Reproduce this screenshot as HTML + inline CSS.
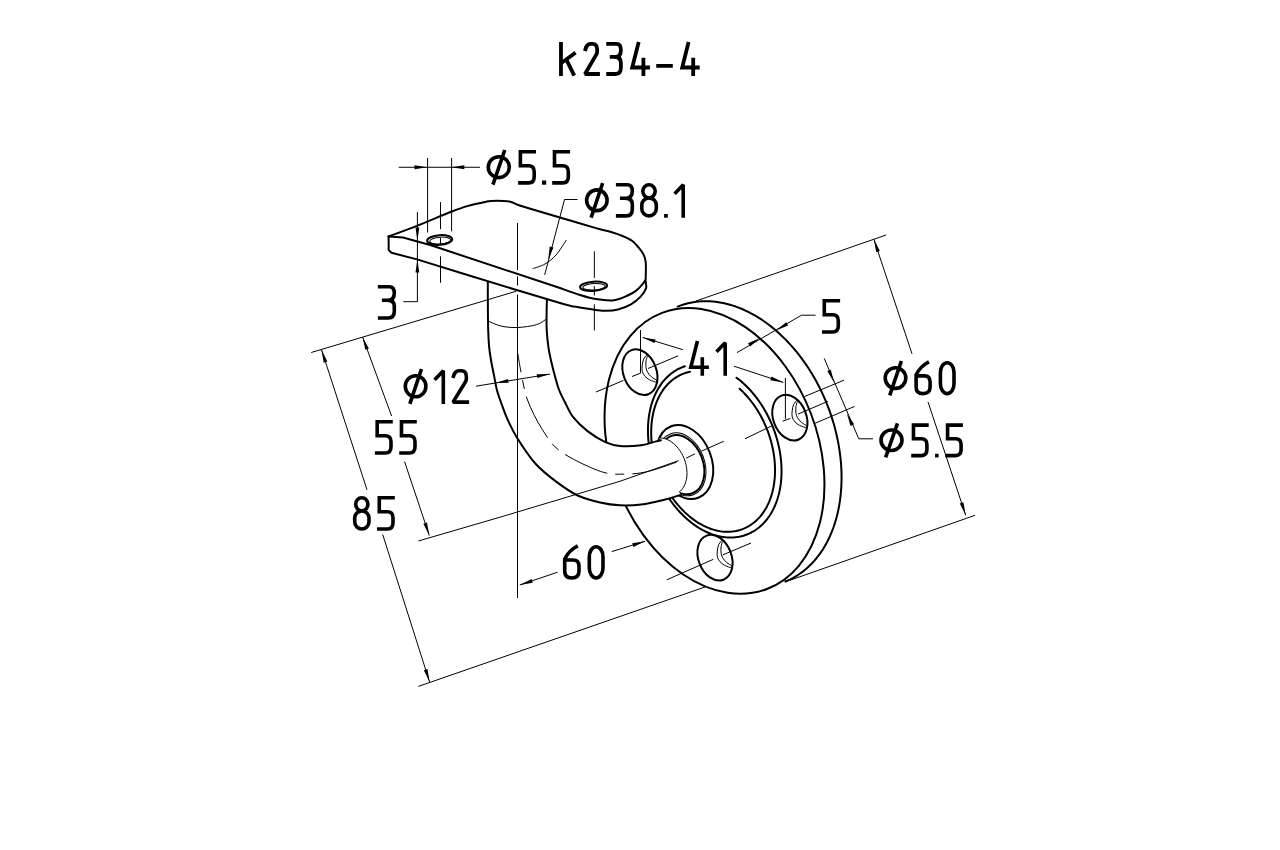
<!DOCTYPE html>
<html><head><meta charset="utf-8"><title>k234-4</title>
<style>html,body{margin:0;padding:0;background:#fff;}svg{display:block;}</style></head>
<body><svg width="1280" height="850" viewBox="0 0 1280 850">
<rect width="1280" height="850" fill="#fff"/>
<g fill="none" stroke="#000" stroke-width="2.0" stroke-linecap="round" stroke-linejoin="round">
<path d="M677.7,306.58 L680.23,305.61 L682.79,304.74 L685.39,303.96 L688.02,303.28 L690.68,302.69 L693.36,302.21 L696.07,301.81 L698.81,301.52 L701.57,301.32 L704.35,301.23 L707.15,301.23 L709.96,301.32 L712.79,301.52 L715.63,301.81 L718.49,302.2 L721.35,302.69 L724.22,303.27 L727.1,303.96 L729.97,304.73 L732.85,305.61 L735.73,306.57 L738.61,307.63 L741.48,308.79 L744.34,310.04 L747.19,311.38 L750.04,312.81 L752.87,314.33 L755.69,315.94 L758.49,317.64 L761.27,319.42 L764.03,321.29 L766.77,323.24 L769.48,325.28 L772.17,327.4 L774.83,329.59 L777.47,331.87 L780.07,334.22 L782.63,336.65 L785.17,339.15 L787.66,341.73 L790.12,344.37 L792.54,347.08 L794.91,349.86 L797.24,352.71 L799.53,355.61 L801.77,358.58 L803.96,361.6 L806.1,364.68 L808.19,367.82 L810.23,371.01 L812.22,374.25 L814.15,377.53 L816.02,380.86 L817.84,384.24 L819.59,387.65 L821.29,391.11 L822.92,394.6 L824.49,398.13 L826,401.68 L827.44,405.27 L828.82,408.88 L830.13,412.51 L831.38,416.17 L832.55,419.85 L833.66,423.54 L834.69,427.25 L835.66,430.97 L836.55,434.7 L837.37,438.43 L838.12,442.17 L838.8,445.91 L839.4,449.65 L839.93,453.38 L840.39,457.11 L840.77,460.83 L841.07,464.53 L841.3,468.23 L841.46,471.9 L841.54,475.56 L841.54,479.2 L841.47,482.81 L841.32,486.4 L841.1,489.95 L840.8,493.48 L840.43,496.97 L839.99,500.42 L839.47,503.84 L838.87,507.21 L838.2,510.55 L837.46,513.83 L836.65,517.07 L835.76,520.26 L834.81,523.4 L833.78,526.48 L832.68,529.5 L831.52,532.47 L830.28,535.38 L828.98,538.22 L827.61,541 L826.17,543.71 L824.67,546.36 L823.11,548.93 L821.48,551.43 L819.79,553.86 L818.04,556.21 L816.23,558.49 L814.37,560.69 L812.44,562.81 L810.47,564.84 L808.43,566.8 L806.35,568.67 L804.21,570.45 L802.03,572.15 L799.79,573.76 L797.51,575.28 L795.18,576.71 L792.81,578.05 L790.4,579.3 L787.95,580.46 L785.46,581.52"/>
<ellipse cx="714.5" cy="450.96" rx="147.66" ry="103.4" transform="rotate(69.2 714.5 450.96)"/>
<path d="M736.49,377.69 L738.64,379.34 L740.77,381.07 L742.86,382.88 L744.92,384.77 L746.95,386.74 L748.94,388.78 L750.88,390.9 L752.79,393.08 L754.65,395.34 L756.46,397.66 L758.23,400.04 L759.94,402.48 L761.6,404.98 L763.21,407.54 L764.75,410.14 L766.24,412.79 L767.67,415.49 L769.04,418.23 L770.34,421 L771.58,423.81 L772.75,426.66 L773.85,429.53 L774.88,432.43 L775.84,435.34 L776.73,438.28 L777.55,441.23 L778.29,444.19 L778.96,447.16 L779.55,450.14 L780.07,453.11 L780.51,456.09 L780.87,459.05 L781.16,462.01 L781.37,464.95 L781.49,467.88 L781.54,470.79 L781.51,473.67 L781.41,476.53 L781.22,479.35 L780.96,482.14 L780.62,484.9 L780.2,487.61 L779.7,490.29 L779.13,492.91 L778.48,495.49 L777.76,498.01 L776.96,500.48 L776.09,502.89 L775.15,505.24 L774.13,507.52 L773.05,509.74 L771.9,511.89 L770.68,513.96 L769.39,515.97 L768.04,517.89 L766.63,519.74 L765.16,521.5 L763.63,523.19 L762.04,524.78 L760.39,526.29 L758.69,527.72 L756.94,529.05 L755.14,530.29 L753.29,531.43 L751.4,532.48 L749.46,533.44 L747.49,534.29 L745.47,535.05 L743.42,535.71 L741.34,536.27 L739.22,536.73 L737.07,537.09 L734.9,537.35 L732.71,537.51 L730.49,537.56 L728.25,537.51 L726,537.36 L723.74,537.11 L721.46,536.75 L719.18,536.3 L716.89,535.74 L714.6,535.09 L712.31,534.33 L710.03,533.48 L707.74,532.53 L705.47,531.48 L703.21,530.34 L700.96,529.11 L698.73,527.78 L696.51,526.36 L694.32,524.86 L692.15,523.27 L690.01,521.59 L687.9,519.83 L685.81,517.98 L683.77,516.06 L681.76,514.06 L679.78,511.99 L677.85,509.84 L675.97,507.63 L674.12,505.35 L672.33,503 L670.59,500.6 L668.89,498.13 L667.26,495.61 L665.67,493.04 L664.15,490.41 L662.68,487.74 L661.28,485.03 L659.94,482.28 L658.66,479.48 L657.45,476.66 L656.31,473.81 L655.23,470.92 L654.23,468.02 L653.3,465.09 L652.43,462.15 L651.65,459.19 L650.93,456.23 L650.29,453.26 L649.73,450.28 L649.24,447.31 L648.84,444.34 L648.5,441.37 L648.25,438.42 L648.07,435.48 L647.98,432.56 L647.96,429.67 L648.02,426.79 L648.16,423.95 L648.37,421.14 L648.67,418.36 L649.04,415.62 L649.49,412.92 L650.02,410.27 L650.62,407.66 L651.3,405.1 L652.05,402.6 L652.88,400.16 L653.78,397.77 L654.75,395.45 L655.79,393.19 L656.9,391 L658.08,388.88 L659.32,386.83 L660.63,384.86 L662.01,382.96 L663.44,381.15 L664.94,379.42 L666.5,377.77 L668.11,376.21 L669.78,374.73 L671.5,373.34 L673.27,372.05 L675.09,370.85 L676.95,369.74 L678.86,368.73 L680.82,367.81 L682.81,366.99 L684.84,366.27"/>
<path d="M739.61,388.77 L741.51,390.53 L743.37,392.36 L745.19,394.26 L746.98,396.23 L748.73,398.26 L750.43,400.35 L752.1,402.5 L753.72,404.71 L755.29,406.97 L756.81,409.28 L758.28,411.64 L759.7,414.05 L761.06,416.51 L762.37,419 L763.62,421.53 L764.81,424.09 L765.94,426.69 L767.02,429.32 L768.02,431.97 L768.97,434.64 L769.85,437.33 L770.66,440.04 L771.41,442.77 L772.08,445.5 L772.69,448.24 L773.23,450.98 L773.7,453.72 L774.1,456.46 L774.43,459.2 L774.69,461.92 L774.88,464.64 L774.99,467.33 L775.03,470.01 L775,472.67 L774.9,475.3 L774.73,477.91 L774.48,480.48 L774.17,483.02 L773.78,485.53 L773.32,487.99 L772.79,490.41 L772.19,492.79 L771.53,495.11 L770.79,497.39 L769.99,499.61 L769.12,501.78 L768.19,503.89 L767.19,505.93 L766.13,507.92 L765.01,509.83 L763.83,511.68 L762.59,513.46 L761.29,515.17 L759.93,516.8 L758.52,518.36 L757.06,519.84 L755.55,521.24 L753.99,522.56 L752.38,523.79 L750.72,524.94 L749.02,526.01 L747.28,526.98 L745.5,527.88 L743.68,528.68 L741.83,529.39 L739.94,530.01 L738.02,530.54 L736.07,530.98 L734.1,531.32 L732.1,531.57 L730.08,531.73 L728.04,531.79 L725.98,531.76 L723.91,531.64 L721.82,531.43 L719.72,531.12 L717.62,530.72 L715.51,530.22 L713.4,529.64 L711.29,528.96 L709.18,528.19 L707.07,527.34 L704.97,526.39 L702.88,525.36 L700.81,524.24 L698.74,523.04 L696.7,521.75 L694.67,520.38 L692.67,518.93 L690.68,517.41 L688.73,515.8 L686.8,514.12 L684.9,512.37 L683.04,510.55 L681.21,508.66 L679.42,506.7 L677.67,504.68 L675.96,502.59 L674.29,500.45 L672.66,498.24 L671.09,495.99 L669.56,493.68 L668.08,491.32 L666.66,488.92 L665.29,486.47 L663.97,483.98 L662.72,481.46 L661.52,478.9 L660.38,476.3 L659.3,473.68 L658.29,471.03 L657.34,468.36 L656.45,465.67 L655.63,462.96 L654.87,460.24 L654.19,457.51 L653.57,454.77 L653.02,452.03 L652.54,449.28 L652.14,446.54 L651.8,443.81 L651.53,441.08 L651.34,438.37 L651.22,435.67 L651.17,432.99 L651.19,430.33 L651.28,427.69 L651.45,425.08 L651.69,422.5 L652,419.96 L652.38,417.45 L652.83,414.99 L653.35,412.56 L653.94,410.18 L654.6,407.85 L655.32,405.56 L656.12,403.34 L656.98,401.16 L657.9,399.05 L658.89,396.99 L659.95,395 L661.06,393.08 L662.24,391.22 L663.47,389.43 L664.76,387.72 L666.11,386.08 L667.51,384.51 L668.97,383.02 L670.48,381.62 L672.03,380.29 L673.64,379.04 L675.29,377.88 L676.99,376.81 L678.72,375.82 L680.5,374.92 L682.31,374.11 L684.16,373.39 L686.05,372.76 L687.96,372.22 L689.91,371.77"/>
<ellipse cx="639.9" cy="372.15" rx="23.63" ry="16.54" transform="rotate(69.2 639.9 372.15)"/>
<path stroke-width="1" d="M646.9,354.9 C646.35,355.6 644.38,357.3 643.6,359.1 C642.82,360.9 642.42,363.62 642.2,365.7 C641.98,367.78 641.83,369.83 642.3,371.6 C642.77,373.37 643.78,374.92 645,376.3 C646.22,377.68 647.63,378.87 649.6,379.9 C651.57,380.93 655.6,382.07 656.8,382.5"/>
<path stroke-width="1" d="M647.3,356.5 C647.08,357.27 646.22,359.23 646,361.1 C645.78,362.97 645.73,365.83 646,367.7 C646.27,369.57 646.68,370.77 647.6,372.3 C648.52,373.83 649.92,375.53 651.5,376.9 C653.08,378.27 656.17,379.9 657.1,380.5"/>
<ellipse cx="789.85" cy="417.65" rx="23.63" ry="16.54" transform="rotate(69.2 789.85 417.65)"/>
<path stroke-width="1" d="M796.85,400.4 C796.3,401.1 794.33,402.8 793.55,404.6 C792.77,406.4 792.37,409.12 792.15,411.2 C791.93,413.28 791.78,415.33 792.25,417.1 C792.72,418.87 793.73,420.42 794.95,421.8 C796.17,423.18 797.58,424.37 799.55,425.4 C801.52,426.43 805.55,427.57 806.75,428"/>
<path stroke-width="1" d="M797.25,402 C797.03,402.77 796.17,404.73 795.95,406.6 C795.73,408.47 795.68,411.33 795.95,413.2 C796.22,415.07 796.63,416.27 797.55,417.8 C798.47,419.33 799.87,421.03 801.45,422.4 C803.03,423.77 806.12,425.4 807.05,426"/>
<ellipse cx="715" cy="557.65" rx="23.63" ry="16.54" transform="rotate(69.2 715 557.65)"/>
<path stroke-width="1" d="M722,540.4 C721.45,541.1 719.48,542.8 718.7,544.6 C717.92,546.4 717.52,549.12 717.3,551.2 C717.08,553.28 716.93,555.33 717.4,557.1 C717.87,558.87 718.88,560.42 720.1,561.8 C721.32,563.18 722.73,564.37 724.7,565.4 C726.67,566.43 730.7,567.57 731.9,568"/>
<path stroke-width="1" d="M722.4,542 C722.18,542.77 721.32,544.73 721.1,546.6 C720.88,548.47 720.83,551.33 721.1,553.2 C721.37,555.07 721.78,556.27 722.7,557.8 C723.62,559.33 725.02,561.03 726.6,562.4 C728.18,563.77 731.27,565.4 732.2,566"/>
<g fill="#fff"><ellipse cx="684.75" cy="462" rx="38.24" ry="26.78" transform="rotate(69.2 684.75 462)"/></g>
<ellipse cx="681.65" cy="464.65" rx="30.57" ry="21.4" transform="rotate(69.2 681.65 464.65)"/>
<g stroke-width="1"><ellipse cx="681.8" cy="464.35" rx="32.49" ry="22.75" transform="rotate(69.2 681.8 464.35)"/></g>
<path fill="#fff" stroke="none" d="M487.8,280 C487.82,285 487.83,301.67 487.9,310 C487.97,318.33 487.98,323.72 488.2,330 C488.42,336.28 488.68,342.4 489.2,347.7 C489.72,353 490.48,357.1 491.3,361.8 C492.12,366.5 493.17,371.2 494.1,375.9 C495.03,380.6 495.72,385.48 496.9,390 C498.08,394.52 499.38,398 501.2,403 C503.02,408 505.08,414.08 507.8,420 C510.52,425.92 512.92,431.25 517.5,438.5 C522.08,445.75 528.8,456.27 535.3,463.5 C541.8,470.73 549.43,476.57 556.5,481.9 C563.57,487.23 570.45,492.07 577.7,495.5 C584.95,498.93 592.95,500.87 600,502.5 C607.05,504.13 613.13,504.97 620,505.3 C626.87,505.63 634.13,505.35 641.2,504.5 C648.27,503.65 655.77,501.82 662.4,500.2 C669.03,498.58 677.9,495.7 681,494.8 L679.37,491.91 L680.47,490.96 L681.5,489.9 L682.45,488.73 L683.32,487.45 L684.11,486.08 L684.81,484.62 L685.41,483.07 L685.92,481.45 L686.34,479.75 L686.65,478 L686.86,476.19 L686.98,474.33 L686.99,472.44 L686.89,470.53 L686.7,468.59 L686.4,466.64 L686.01,464.7 L685.52,462.76 L684.93,460.84 L684.25,458.94 L683.48,457.08 L682.62,455.27 L681.69,453.5 L680.67,451.8 L679.58,450.16 L678.43,448.6 L677.21,447.13 L675.94,445.74 L674.61,444.45 L673.24,443.27 L671.83,442.19 L670.39,441.22 L668.93,440.37 L667.44,439.65 L665.95,439.05 L664.45,438.57 L662.95,438.23 L661.46,438.01 L659.99,437.93 L658.54,437.99 L661,440.3 L655.3,441.6 L641.2,445.2 L620,445.9 L605.9,442.4 L587.5,431.1 L573.2,417.2 L564.7,401.7 L559.1,390 L554.9,375.9 L551.3,361.8 L548.5,347.7 L546.7,330 L546.6,315 L547,296 Z"/>
<path d="M487.8,280 C487.82,285 487.83,301.67 487.9,310 C487.97,318.33 487.98,323.72 488.2,330 C488.42,336.28 488.68,342.4 489.2,347.7 C489.72,353 490.48,357.1 491.3,361.8 C492.12,366.5 493.17,371.2 494.1,375.9 C495.03,380.6 495.72,385.48 496.9,390 C498.08,394.52 499.38,398 501.2,403 C503.02,408 505.08,414.08 507.8,420 C510.52,425.92 512.92,431.25 517.5,438.5 C522.08,445.75 528.8,456.27 535.3,463.5 C541.8,470.73 549.43,476.57 556.5,481.9 C563.57,487.23 570.45,492.07 577.7,495.5 C584.95,498.93 592.95,500.87 600,502.5 C607.05,504.13 613.13,504.97 620,505.3 C626.87,505.63 634.13,505.35 641.2,504.5 C648.27,503.65 655.77,501.82 662.4,500.2 C669.03,498.58 677.9,495.7 681,494.8"/>
<path d="M547,296 C546.93,299.17 546.65,309.33 546.6,315 C546.55,320.67 546.38,324.55 546.7,330 C547.02,335.45 547.73,342.4 548.5,347.7 C549.27,353 550.23,357.1 551.3,361.8 C552.37,366.5 553.6,371.2 554.9,375.9 C556.2,380.6 557.47,385.7 559.1,390 C560.73,394.3 562.35,397.17 564.7,401.7 C567.05,406.23 569.4,412.3 573.2,417.2 C577,422.1 582.05,426.9 587.5,431.1 C592.95,435.3 600.48,439.93 605.9,442.4 C611.32,444.87 614.12,445.43 620,445.9 C625.88,446.37 635.32,445.92 641.2,445.2 C647.08,444.48 652,442.42 655.3,441.6 C658.6,440.78 660.05,440.52 661,440.3"/>
<path stroke-width="1" d="M658.54,437.99 L659.99,437.93 L661.46,438.01 L662.95,438.23 L664.45,438.57 L665.95,439.05 L667.44,439.65 L668.93,440.37 L670.39,441.22 L671.83,442.19 L673.24,443.27 L674.61,444.45 L675.94,445.74 L677.21,447.13 L678.43,448.6 L679.58,450.16 L680.67,451.8 L681.69,453.5 L682.62,455.27 L683.48,457.08 L684.25,458.94 L684.93,460.84 L685.52,462.76 L686.01,464.7 L686.4,466.64 L686.7,468.59 L686.89,470.53 L686.99,472.44 L686.98,474.33 L686.86,476.19 L686.65,478 L686.34,479.75 L685.92,481.45 L685.41,483.07 L684.81,484.62 L684.11,486.08 L683.32,487.45 L682.45,488.73 L681.5,489.9 L680.47,490.96 L679.37,491.91"/>
<path stroke-width="1" d="M488.5,321.2 C490.62,322.02 496.38,325.05 501.2,326.1 C506.02,327.15 511.52,327.73 517.4,327.5 C523.28,327.27 531.67,326.12 536.5,324.7 C541.33,323.28 544.75,319.95 546.4,319"/>
<path fill="#fff" stroke="none" d="M388.5,236.5 C393.33,234.68 407.05,229.72 417.5,225.6 C427.95,221.48 442.77,215.08 451.2,211.8 C459.63,208.52 462.63,207.48 468.1,205.9 C473.57,204.32 480.18,203.13 484,202.3 C487.82,201.47 487.72,201.13 491,200.9 C494.28,200.67 500.37,200.72 503.7,200.9 C507.03,201.08 508.33,201.23 511,202 C513.67,202.77 515.92,204.22 519.7,205.5 C523.48,206.78 527.15,207.75 533.7,209.7 C540.25,211.65 548.62,214.13 559,217.2 C569.38,220.27 587.18,225.58 596,228.1 C604.82,230.62 607.48,230.98 611.9,232.3 C616.32,233.62 619.15,234.58 622.5,236 C625.85,237.42 629.37,238.93 632,240.8 C634.63,242.67 636.37,244.9 638.3,247.2 C640.23,249.5 642.37,252.13 643.6,254.6 C644.83,257.07 645.33,258.83 645.7,262 C646.07,265.17 645.82,270.27 645.8,273.6 C645.78,276.93 645.63,280.6 645.6,282 L645.6,282 C645.67,283.07 646.87,285.92 646,288.4 C645.13,290.88 642.92,294.25 640.4,296.9 C637.88,299.55 634.63,302.2 630.9,304.3 C627.17,306.4 622.15,308.42 618,309.5 C613.85,310.58 609.67,310.73 606,310.8 C602.33,310.87 601,310.57 596,309.9 C591,309.23 582,307.95 576,306.8 C570,305.65 577.67,308.17 560,303 C542.33,297.83 485,280.33 470,275.8 L417,259.4 L391.5,252.8 L388.7,250 Z"/>
<path d="M388.5,236.5 C393.33,234.68 407.05,229.72 417.5,225.6 C427.95,221.48 442.77,215.08 451.2,211.8 C459.63,208.52 462.63,207.48 468.1,205.9 C473.57,204.32 480.18,203.13 484,202.3 C487.82,201.47 487.72,201.13 491,200.9 C494.28,200.67 500.37,200.72 503.7,200.9 C507.03,201.08 508.33,201.23 511,202 C513.67,202.77 515.92,204.22 519.7,205.5 C523.48,206.78 527.15,207.75 533.7,209.7 C540.25,211.65 548.62,214.13 559,217.2 C569.38,220.27 587.18,225.58 596,228.1 C604.82,230.62 607.48,230.98 611.9,232.3 C616.32,233.62 619.15,234.58 622.5,236 C625.85,237.42 629.37,238.93 632,240.8 C634.63,242.67 636.37,244.9 638.3,247.2 C640.23,249.5 642.37,252.13 643.6,254.6 C644.83,257.07 645.33,258.83 645.7,262 C646.07,265.17 645.82,270.27 645.8,273.6 C645.78,276.93 645.63,280.6 645.6,282"/>
<path d="M645.6,282 C645.67,283.07 646.87,285.92 646,288.4 C645.13,290.88 642.92,294.25 640.4,296.9 C637.88,299.55 634.63,302.2 630.9,304.3 C627.17,306.4 622.15,308.42 618,309.5 C613.85,310.58 609.67,310.73 606,310.8 C602.33,310.87 601,310.57 596,309.9 C591,309.23 582,307.95 576,306.8 C570,305.65 577.67,308.17 560,303 C542.33,297.83 485,280.33 470,275.8 L417,259.4 L391.5,252.8 L388.7,250 L388.6,236.6"/>
<path d="M388.6,236.6 L403,237.5 L431,245.3 L560,288 L560,288 C563.33,289.17 574,293.15 580,295 C586,296.85 590.33,298.23 596,299.1 C601.67,299.97 608.72,300.8 614,300.2 C619.28,299.6 624,297.1 627.7,295.5 C631.4,293.9 633.72,292.48 636.2,290.6 C638.68,288.72 641.13,285.88 642.6,284.2 C644.07,282.52 644.6,281.12 645,280.5"/>
<ellipse cx="439.7" cy="240" rx="12.6" ry="4.8" transform="rotate(-4 439.7 240)"/>
<ellipse cx="440.2" cy="240.6" rx="10.5" ry="3.4" transform="rotate(-4 439.7 240)" stroke-width="1"/>
<ellipse cx="593.6" cy="286.3" rx="13.6" ry="4.6" transform="rotate(-4 593.6 286.3)"/>
<ellipse cx="594" cy="286.8" rx="11.2" ry="3.2" transform="rotate(-4 593.6 286.3)" stroke-width="1"/>
</g>
<g fill="none" stroke="#000" stroke-width="1.0" stroke-linecap="butt">
<path d="M517.5,222.9 L517.5,270"/>
<path d="M517.5,276.4 L517.5,285.5"/>
<path d="M517.5,294.5 L517.5,598"/>
<path d="M594.35,251.3 L594.35,277.9"/>
<path d="M594.35,286.1 L594.35,295.5"/>
<path d="M594.35,304.2 L594.35,330.4"/>
<path d="M440.5,202.1 L440.5,229.2"/>
<path d="M440.5,238 L440.5,244.7"/>
<path d="M440.5,256.3 L440.5,282.8"/>
<path d="M427.6,158 L427.6,232.5"/>
<path d="M451.6,158 L451.6,231.4"/>
<path d="M398.75,167.25 L480,167.25"/>
<path d="M417.4,212 L417.4,301.7 L403.3,301.7"/>
<path d="M577.5,199.5 L564.5,199.5 L544.7,274.8"/>
<path d="M311.2,352.5 L516,291.3"/>
<path d="M321.5,349.7 L367,489.8"/>
<path d="M382.7,534.5 L429.6,682"/>
<path d="M418.4,686.4 L705,587"/>
<path d="M362.6,337 L391.6,416"/>
<path d="M404.6,461.7 L429.3,535.5"/>
<path d="M418.4,541 L500,517.2 L620,481.25 L678.75,460.6"/>
<path d="M686.25,458.1 L695,453.75"/>
<path d="M701.25,451.25 L723.75,441.25"/>
<path d="M745,438.75 L772.7,425.4"/>
<path d="M782.6,421.2 L790.4,418.4"/>
<path d="M798,414.1 L827.8,401.4"/>
<path d="M804.5,396.5 L844,380.2"/>
<path d="M815,423.3 L854.6,406.4"/>
<path d="M596,392 L623.5,380.4"/>
<path d="M632,376.5 L640.5,373.2"/>
<path d="M648,368.5 L678.2,355.8"/>
<path d="M640.5,330 L640.5,373.2"/>
<path d="M785.4,378 L785.4,419"/>
<path d="M666.8,579.8 L713.4,559.3"/>
<path d="M722.6,555 L751,543"/>
<path d="M642.6,337.4 L682.9,349.7"/>
<path d="M734,366.2 L783.3,382.4"/>
<path d="M815.6,315.2 L801.5,315.2 L737,352.6"/>
<path d="M696,301 L886.1,235"/>
<path d="M873.9,239.3 L912,353.8"/>
<path d="M928,401.9 L965.7,515.3"/>
<path d="M789.8,580.3 L975,515.3"/>
<path d="M824.2,358.4 L858.8,438.8 L873,438.8"/>
<path d="M476,386.2 L549.9,374.1"/>
<path d="M519.8,585 L557.6,572.2"/>
<path d="M611.7,551.6 L645.2,541.3"/>
<path stroke-width="1" stroke-dasharray="46,8,9,8" stroke-dashoffset="27" d="M517.8,353.6 C518.33,356.67 519.38,364.27 521,372 C522.62,379.73 523.93,390.4 527.5,400 C531.07,409.6 536.87,421.02 542.4,429.6 C547.93,438.18 551.07,444.55 560.7,451.5 C570.33,458.45 589.37,467.53 600.2,471.3 C611.03,475.07 617.61,474.11 625.7,474.1 C633.79,474.09 639.7,473.43 648.75,471.25 C657.8,469.07 674.79,462.71 680,461"/>
<path stroke-width="1" d="M532.5,268.75 C534.58,267.96 541.08,266.29 545,264 C548.92,261.71 552.43,259 556,255 C559.57,251 564.67,242.5 566.4,240"/>
</g>
<g fill="#000" stroke="none"><path d="M427.5,167.25 L414.5,169.15 L414.5,165.35 Z"/><path d="M451.3,167.25 L464.3,165.35 L464.3,169.15 Z"/><path d="M417.4,240.5 L415.5,227.5 L419.3,227.5 Z"/><path d="M417.4,259.5 L419.3,272.5 L415.5,272.5 Z"/><path d="M548.2,259.5 L549.77,246.46 L553.44,247.45 Z"/><path d="M321.5,349.7 L327.32,361.48 L323.71,362.65 Z"/><path d="M429.6,682 L423.85,670.19 L427.47,669.04 Z"/><path d="M362.6,337 L368.86,348.55 L365.3,349.86 Z"/><path d="M429.3,535.5 L423.37,523.78 L426.98,522.57 Z"/><path d="M642.6,337.4 L655.59,339.38 L654.48,343.01 Z"/><path d="M783.3,382.4 L770.36,380.15 L771.54,376.54 Z"/><path d="M776,330.5 L786.17,322.18 L788.12,325.44 Z"/><path d="M760,338 L750.04,346.57 L748.01,343.36 Z"/><path d="M873.9,239.3 L879.81,251.04 L876.2,252.23 Z"/><path d="M965.7,515.3 L959.8,503.56 L963.4,502.36 Z"/><path d="M834,382.4 L827.33,371.08 L830.84,369.65 Z"/><path d="M846.8,413.4 L854.07,424.34 L850.64,425.97 Z"/><path d="M495.5,383 L508.02,379.03 L508.64,382.78 Z"/><path d="M549.9,374.1 L537.38,378.08 L536.76,374.33 Z"/><path d="M519.8,585 L531.5,579.03 L532.72,582.63 Z"/><path d="M645.2,541.3 L633.33,546.94 L632.22,543.3 Z"/></g>
<g fill="none" stroke="#000" stroke-width="3.8" stroke-linecap="square" stroke-linejoin="miter" stroke-miterlimit="2"><path vector-effect="non-scaling-stroke" transform="translate(560.96 43.8) scale(0.9879 0.9679)" d="M0,0 V31.2 M0.5,19.8 L13.2,10.2 M5.6,16.6 L12.6,31.2"/><path vector-effect="non-scaling-stroke" transform="translate(585 43.8) scale(0.8387 0.9679)" d="M0.5,5.5 Q2,0 6.5,0 H9 Q14.5,0 14.5,6 V8 Q14.5,9.6 13.4,11.2 L0,31.2 H15.5"/><path vector-effect="non-scaling-stroke" transform="translate(608.15 43.8) scale(0.8793 0.9679)" d="M0,0 H9.5 Q14.5,0 14.5,6.3 Q14.5,13.5 8.5,13.5 H4 M8.5,13.5 Q14.5,13.5 14.5,19.5 V24.5 Q14.5,31.2 8.5,31.2 H0"/><path vector-effect="non-scaling-stroke" transform="translate(632.2 43.8) scale(0.9755 0.9679)" d="M6.2,0 L0,24.5 H16.3 M11.5,16.3 V31.2"/><path d="M658.15,65.87 H670.9"/><path vector-effect="non-scaling-stroke" transform="translate(682.2 43.8) scale(0.9571 0.9679)" d="M6.2,0 L0,24.5 H16.3 M11.5,16.3 V31.2"/></g>
<g fill="none" stroke="#000" stroke-width="3.6" stroke-linecap="square" stroke-linejoin="miter" stroke-miterlimit="2"><path vector-effect="non-scaling-stroke" transform="translate(488.3 151.7) scale(1.0048 1.0000)" d="M0,15.5 A10.45,10.45 0 1 1 20.9,15.5 A10.45,10.45 0 1 1 0,15.5 Z M15.8,0 L5.2,31.2"/><path vector-effect="non-scaling-stroke" transform="translate(519.9 151.7) scale(0.9728 1.0000)" d="M14.7,0 H0.5 V14 H9 Q14.7,14 14.7,20 V25 Q14.7,31.2 9,31.2 H0"/><rect x="542" y="180.5" width="4.2" height="4.2" fill="#000" stroke="none"/><path vector-effect="non-scaling-stroke" transform="translate(554 151.7) scale(0.9728 1.0000)" d="M14.7,0 H0.5 V14 H9 Q14.7,14 14.7,20 V25 Q14.7,31.2 9,31.2 H0"/></g>
<g fill="none" stroke="#000" stroke-width="3.6" stroke-linecap="square" stroke-linejoin="miter" stroke-miterlimit="2"><path vector-effect="non-scaling-stroke" transform="translate(586.6 184.8) scale(0.9809 0.9968)" d="M0,15.5 A10.45,10.45 0 1 1 20.9,15.5 A10.45,10.45 0 1 1 0,15.5 Z M15.8,0 L5.2,31.2"/><path vector-effect="non-scaling-stroke" transform="translate(617.7 184.8) scale(1.0069 0.9968)" d="M0,0 H9.5 Q14.5,0 14.5,6.3 Q14.5,13.5 8.5,13.5 H4 M8.5,13.5 Q14.5,13.5 14.5,19.5 V24.5 Q14.5,31.2 8.5,31.2 H0"/><path vector-effect="non-scaling-stroke" transform="translate(641.8 184.8) scale(1.0000 0.9968)" d="M7.2,0 A6.2,6.55 0 0 1 7.2,13.1 A6.2,6.55 0 0 1 7.2,0 Z M7.25,13.1 A7.25,7.25 0 0 1 14.5,20.35 V24 A7.25,7.2 0 0 1 0,24 V20.35 A7.25,7.25 0 0 1 7.25,13.1 Z"/><rect x="664.1" y="214" width="3.7" height="3.7" fill="#000" stroke="none"/><path vector-effect="non-scaling-stroke" transform="translate(675.9 184.8) scale(0.9481 0.9968)" d="M0,7.8 L7.7,0 V31.2"/></g>
<g fill="none" stroke="#000" stroke-width="3.6" stroke-linecap="square" stroke-linejoin="miter" stroke-miterlimit="2"><path vector-effect="non-scaling-stroke" transform="translate(379.7 286.7) scale(1.0069 1.0032)" d="M0,0 H9.5 Q14.5,0 14.5,6.3 Q14.5,13.5 8.5,13.5 H4 M8.5,13.5 Q14.5,13.5 14.5,19.5 V24.5 Q14.5,31.2 8.5,31.2 H0"/></g>
<g fill="none" stroke="#000" stroke-width="3.6" stroke-linecap="square" stroke-linejoin="miter" stroke-miterlimit="2"><path vector-effect="non-scaling-stroke" transform="translate(405.3 370.7) scale(0.9856 1.0064)" d="M0,15.5 A10.45,10.45 0 1 1 20.9,15.5 A10.45,10.45 0 1 1 0,15.5 Z M15.8,0 L5.2,31.2"/><path vector-effect="non-scaling-stroke" transform="translate(435.9 370.7) scale(0.9610 1.0064)" d="M0,7.8 L7.7,0 V31.2"/><path vector-effect="non-scaling-stroke" transform="translate(453 370.7) scale(0.9226 1.0064)" d="M0.5,5.5 Q2,0 6.5,0 H9 Q14.5,0 14.5,6 V8 Q14.5,9.6 13.4,11.2 L0,31.2 H15.5"/></g>
<g fill="none" stroke="#000" stroke-width="3.6" stroke-linecap="square" stroke-linejoin="miter" stroke-miterlimit="2"><path vector-effect="non-scaling-stroke" transform="translate(376.7 421.7) scale(0.9728 1.0032)" d="M14.7,0 H0.5 V14 H9 Q14.7,14 14.7,20 V25 Q14.7,31.2 9,31.2 H0"/><path vector-effect="non-scaling-stroke" transform="translate(401 421.7) scale(0.9524 1.0032)" d="M14.7,0 H0.5 V14 H9 Q14.7,14 14.7,20 V25 Q14.7,31.2 9,31.2 H0"/></g>
<g fill="none" stroke="#000" stroke-width="3.6" stroke-linecap="square" stroke-linejoin="miter" stroke-miterlimit="2"><path vector-effect="non-scaling-stroke" transform="translate(354.7 497.7) scale(0.9862 1.0032)" d="M7.2,0 A6.2,6.55 0 0 1 7.2,13.1 A6.2,6.55 0 0 1 7.2,0 Z M7.25,13.1 A7.25,7.25 0 0 1 14.5,20.35 V24 A7.25,7.2 0 0 1 0,24 V20.35 A7.25,7.25 0 0 1 7.25,13.1 Z"/><path vector-effect="non-scaling-stroke" transform="translate(378.8 497.7) scale(0.9660 1.0032)" d="M14.7,0 H0.5 V14 H9 Q14.7,14 14.7,20 V25 Q14.7,31.2 9,31.2 H0"/></g>
<g fill="none" stroke="#000" stroke-width="3.6" stroke-linecap="square" stroke-linejoin="miter" stroke-miterlimit="2"><path vector-effect="non-scaling-stroke" transform="translate(564.7 546.7) scale(1.0000 1.0032)" d="M11.5,0 Q4,4 0.3,12 Q0,13.5 0,15 V24.5 Q0,31.2 7,31.2 Q14.3,31.2 14.3,24.5 V19.5 Q14.3,13.3 8.5,13.3 H0"/><path vector-effect="non-scaling-stroke" transform="translate(589.3 546.7) scale(1.0000 1.0032)" d="M0,10 A6.85,10 0 0 1 13.7,10 V21.2 A6.85,10 0 0 1 0,21.2 Z"/></g>
<g fill="none" stroke="#000" stroke-width="3.6" stroke-linecap="square" stroke-linejoin="miter" stroke-miterlimit="2"><path vector-effect="non-scaling-stroke" transform="translate(690.8 342.7) scale(1.0000 1.0032)" d="M6.2,0 L0,24.5 H16.3 M11.5,16.3 V31.2"/><path vector-effect="non-scaling-stroke" transform="translate(717.7 342.7) scale(0.9740 1.0032)" d="M0,7.8 L7.7,0 V31.2"/></g>
<g fill="none" stroke="#000" stroke-width="3.6" stroke-linecap="square" stroke-linejoin="miter" stroke-miterlimit="2"><path vector-effect="non-scaling-stroke" transform="translate(823.8 300.7) scale(0.9864 1.0032)" d="M14.7,0 H0.5 V14 H9 Q14.7,14 14.7,20 V25 Q14.7,31.2 9,31.2 H0"/></g>
<g fill="none" stroke="#000" stroke-width="3.6" stroke-linecap="square" stroke-linejoin="miter" stroke-miterlimit="2"><path vector-effect="non-scaling-stroke" transform="translate(885.2 362.7) scale(0.9856 0.9904)" d="M0,15.5 A10.45,10.45 0 1 1 20.9,15.5 A10.45,10.45 0 1 1 0,15.5 Z M15.8,0 L5.2,31.2"/><path vector-effect="non-scaling-stroke" transform="translate(916.1 362.7) scale(0.9790 0.9904)" d="M11.5,0 Q4,4 0.3,12 Q0,13.5 0,15 V24.5 Q0,31.2 7,31.2 Q14.3,31.2 14.3,24.5 V19.5 Q14.3,13.3 8.5,13.3 H0"/><path vector-effect="non-scaling-stroke" transform="translate(940.4 362.7) scale(0.9927 0.9904)" d="M0,10 A6.85,10 0 0 1 13.7,10 V21.2 A6.85,10 0 0 1 0,21.2 Z"/></g>
<g fill="none" stroke="#000" stroke-width="3.6" stroke-linecap="square" stroke-linejoin="miter" stroke-miterlimit="2"><path vector-effect="non-scaling-stroke" transform="translate(881 425.1) scale(1.0048 0.9776)" d="M0,15.5 A10.45,10.45 0 1 1 20.9,15.5 A10.45,10.45 0 1 1 0,15.5 Z M15.8,0 L5.2,31.2"/><path vector-effect="non-scaling-stroke" transform="translate(913 425.1) scale(0.9456 0.9776)" d="M14.7,0 H0.5 V14 H9 Q14.7,14 14.7,20 V25 Q14.7,31.2 9,31.2 H0"/><rect x="935" y="453.8" width="3.6" height="3.6" fill="#000" stroke="none"/><path vector-effect="non-scaling-stroke" transform="translate(947.1 425.1) scale(0.9524 0.9776)" d="M14.7,0 H0.5 V14 H9 Q14.7,14 14.7,20 V25 Q14.7,31.2 9,31.2 H0"/></g>
</svg></body></html>
